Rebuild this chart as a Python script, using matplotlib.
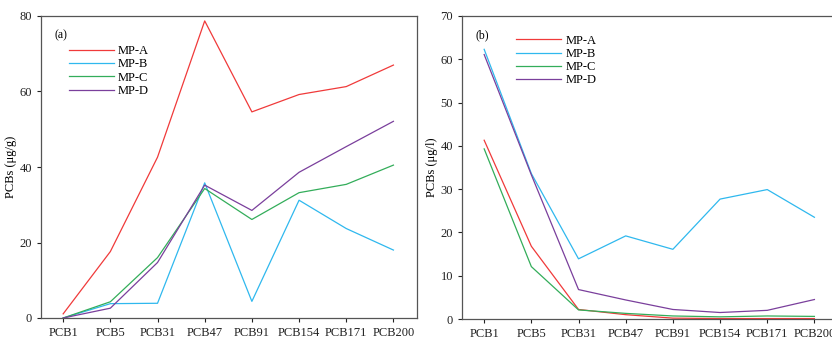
import matplotlib.pyplot as plt

plt.rcParams['font.family'] = ['Liberation Serif', 'DejaVu Serif']

congeners = ["PCB1", "PCB5", "PCB31", "PCB47", "PCB91", "PCB154", "PCB171", "PCB200"]
series = ["MP-A", "MP-B", "MP-C", "MP-D"]
colors = ["#f03a3a", "#2fb8ee", "#33ad5a", "#7a3f9c"]

# (a) PCBs in microplastics, ug/g
sorbed_a = [1.1, 17.6, 42.6, 78.7, 54.6, 59.2, 61.3, 67.0]
sorbed_b = [0.0, 3.8, 3.9, 35.8, 4.4, 31.2, 23.7, 18.0]
sorbed_c = [0.0, 4.3, 16.0, 34.3, 26.1, 33.2, 35.4, 40.5]
sorbed_d = [0.0, 2.6, 14.7, 35.2, 28.5, 38.6, 45.4, 52.1]

# (b) PCBs in water, ug/l
water_a = [41.3, 16.8, 2.2, 1.0, 0.2, 0.1, 0.1, 0.1]
water_b = [62.3, 33.6, 13.9, 19.2, 16.1, 27.7, 29.9, 23.5]
water_c = [39.3, 12.1, 2.1, 1.3, 0.7, 0.5, 0.7, 0.6]
water_d = [61.1, 33.3, 6.8, 4.4, 2.2, 1.5, 2.0, 4.5]

fig = plt.figure(figsize=(8.32, 3.39), dpi=100)
W, H = 832, 339
ax1 = fig.add_axes([41 / W, 1 - 318 / H, (417 - 41) / W, (318 - 16) / H])
ax2 = fig.add_axes([462 / W, 1 - 319 / H, (838 - 462) / W, (319 - 16) / H])

x = list(range(len(congeners)))


def style(ax, ymax, step, label, tag, leg_x, leg_y):
    ax.set_xlim(-0.47, 7.5)
    ax.set_ylim(0, ymax)
    ax.set_yticks(range(0, ymax + 1, step))
    ax.set_xticks(x)
    ax.set_xticklabels(congeners)
    ax.tick_params(direction="out", length=3, width=0.8, labelsize=9, colors="#222222")
    for s in ax.spines.values():
        s.set_color("#555555")
        s.set_linewidth(0.9)
    ax.set_ylabel(label, fontsize=9, labelpad=2)
    ax.text(0.035, 0.955, tag, transform=ax.transAxes, fontsize=8.5, va="top")
    ax.legend(loc="upper left", bbox_to_anchor=(leg_x, leg_y), frameon=False,
              fontsize=9, handlelength=3.6, handletextpad=0.35, labelspacing=0.1,
              borderaxespad=0)


for vals, name, c in zip([sorbed_a, sorbed_b, sorbed_c, sorbed_d], series, colors):
    ax1.plot(x, vals, color=c, lw=0.9, label=name)
for vals, name, c in zip([water_a, water_b, water_c, water_d], series, colors):
    ax2.plot(x, vals, color=c, lw=0.9, label=name)

style(ax1, 80, 20, "PCBs (μg/g)", "(a)", 0.06, 0.92)
style(ax2, 70, 10, "PCBs (μg/l)", "(b)", 0.13, 0.955)

fig.savefig("out.png", dpi=100)
